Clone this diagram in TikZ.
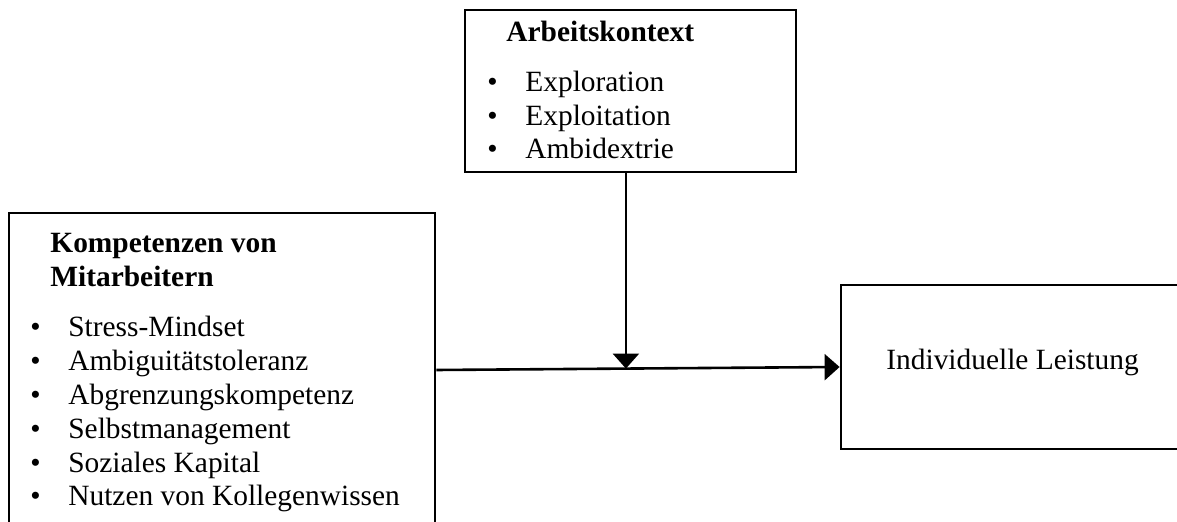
\documentclass[tikz,border=0pt]{standalone}
\usepackage{fontspec}
\setmainfont{Liberation Serif}
\usetikzlibrary{arrows.meta,calc}

\tikzset{
	kasten/.style={draw=black, line width=1.4pt, rectangle, inner sep=0pt},
	schrift/.style={inner sep=0pt, anchor=base west, font=\fontsize{14.7}{17}\selectfont},
	titel/.style={schrift, font=\fontsize{14.7}{17}\selectfont\bfseries},
	punkt/.style={schrift, execute at begin node={\makebox[19pt][l]{•}}},
	pfeil/.style={line width=1.3pt, -{Triangle[length=7.5pt,width=13pt]}}
}

\begin{document}
\begin{tikzpicture}[x=0.5pt,y=-0.5pt]
		\useasboundingbox (0,0) rectangle (1177,522);
		\clip (0,0) rectangle (1177,522);
		% Kaesten
		\node [kasten, minimum width=165.5pt, minimum height=81pt] (kontext) at (630.5,91) {};
		\node [kasten, minimum width=213pt, minimum height=157pt] (kompetenzen) at (222,370) {};
		\node [kasten, minimum width=187pt, minimum height=82pt] (leistung) at (1028,367) {};
		% Arbeitskontext
		\node [titel] (kontexttitel) at (506,42) {Arbeitskontext};
		\foreach \t [count=\i] in {Exploration, Exploitation, Ambidextrie}
			\node [punkt] (kontext\i) at (487,{92+33.5*(\i-1)}) {\t};
		% Kompetenzen
		\node [titel] (kompetenztitel1) at (50,253) {Kompetenzen von};
		\node [titel] (kompetenztitel2) at (50,287) {Mitarbeitern};
		\foreach \t [count=\i] in {Stress-Mindset, Ambiguitätstoleranz, Abgrenzungskompetenz, Selbstmanagement, Soziales Kapital, Nutzen von Kollegenwissen}
			\node [punkt] (kompetenz\i) at (30,{337+33.8*(\i-1)}) {\t};
		% Leistung
		\node [schrift] (leistungtext) at (886,370) {Individuelle Leistung};
		% Pfeile
		\coordinate (mitte) at ($(kompetenzen.east)!0.47!(leistung.west)$);
		\draw [pfeil] (kompetenzen.east) -- (leistung.west);
		\draw [pfeil] (kontext.south -| mitte) -- (mitte);
	\end{tikzpicture}
\end{document}
